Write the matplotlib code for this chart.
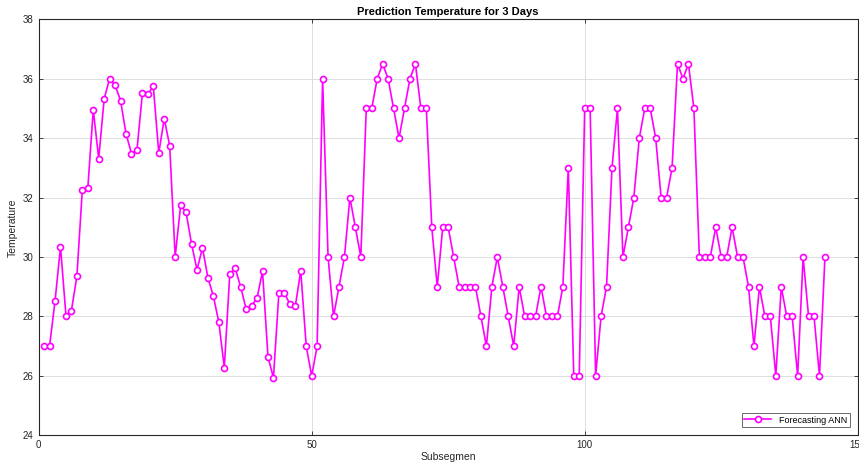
import matplotlib
matplotlib.use("Agg")
import matplotlib.pyplot as plt
import numpy as np

# Subsegment index and predicted temperature
subsegmen = np.arange(1, 145)
temperature = [
    27.0, 27.0, 28.52, 30.34, 28.03, 28.2, 29.35, 32.27, 32.31, 34.95,
    33.31, 35.33, 36.0, 35.78, 35.26, 34.15, 33.48, 33.59, 35.51, 35.49,
    35.74, 33.5, 34.66, 33.74, 30.0, 31.74, 31.5, 30.44, 29.57, 30.31,
    29.3, 28.68, 27.8, 26.28, 29.42, 29.62, 28.99, 28.25, 28.35, 28.63,
    29.52, 26.63, 25.94, 28.8, 28.8, 28.41, 28.34, 29.54, 27.0, 26.0,
    27.0, 36.0, 30.0, 28.0, 29.0, 30.0, 32.0, 31.0, 30.0, 35.0,
    35.0, 36.0, 36.5, 36.0, 35.0, 34.0, 35.0, 36.0, 36.5, 35.0,
    35.0, 31.0, 29.0, 31.0, 31.0, 30.0, 29.0, 29.0, 29.0, 29.0,
    28.0, 27.0, 29.0, 30.0, 29.0, 28.0, 27.0, 29.0, 28.0, 28.0,
    28.0, 29.0, 28.0, 28.0, 28.0, 29.0, 33.0, 26.0, 26.0, 35.0,
    35.0, 26.0, 28.0, 29.0, 33.0, 35.0, 30.0, 31.0, 32.0, 34.0,
    35.0, 35.0, 34.0, 32.0, 32.0, 33.0, 36.5, 36.0, 36.5, 35.0,
    30.0, 30.0, 30.0, 31.0, 30.0, 30.0, 31.0, 30.0, 30.0, 29.0,
    27.0, 29.0, 28.0, 28.0, 26.0, 29.0, 28.0, 28.0, 26.0, 30.0,
    28.0, 28.0, 26.0, 30.0,
]

x_ticks = [0, 50, 100, 150]
y_ticks = list(range(24, 39, 2))

plt.rcParams["font.family"] = ["Liberation Sans", "DejaVu Sans"]

fig = plt.figure(figsize=(8.59, 4.67), dpi=100)
ax = fig.add_axes([0.045, 0.0678, 0.9535, 0.891])

ax.plot(
    subsegmen, temperature,
    color="#ff00ff", linewidth=1.2,
    marker="o", markersize=4.3, markerfacecolor="white",
    markeredgecolor="#ff00ff", markeredgewidth=1.2,
    label="Forecasting ANN",
)

ax.set_xlim(0, 150)
ax.set_ylim(24, 38)
ax.set_xticks(x_ticks)
ax.set_yticks(y_ticks)
ax.tick_params(direction="in", length=3, labelsize=7, colors="#262626",
               top=True, right=True, width=0.6)
ax.grid(True, color="#dfdfdf", linewidth=0.7)
ax.set_axisbelow(True)
for s in ax.spines.values():
    s.set_color("#262626")
    s.set_linewidth(0.8)

ax.set_title("Prediction Temperature for 3 Days", fontsize=8, fontweight="bold",
             pad=3)
ax.set_xlabel("Subsegmen", fontsize=7.5, color="#262626", labelpad=1)
ax.set_ylabel("Temperature", fontsize=7.5, color="#262626", labelpad=4)

leg = ax.legend(loc="lower right", fontsize=6.5, frameon=True, fancybox=False,
                edgecolor="#262626", borderpad=0.3, handlelength=3.0,
                borderaxespad=0.9)
leg.get_frame().set_linewidth(0.6)

fig.savefig("out.png", dpi=100)
